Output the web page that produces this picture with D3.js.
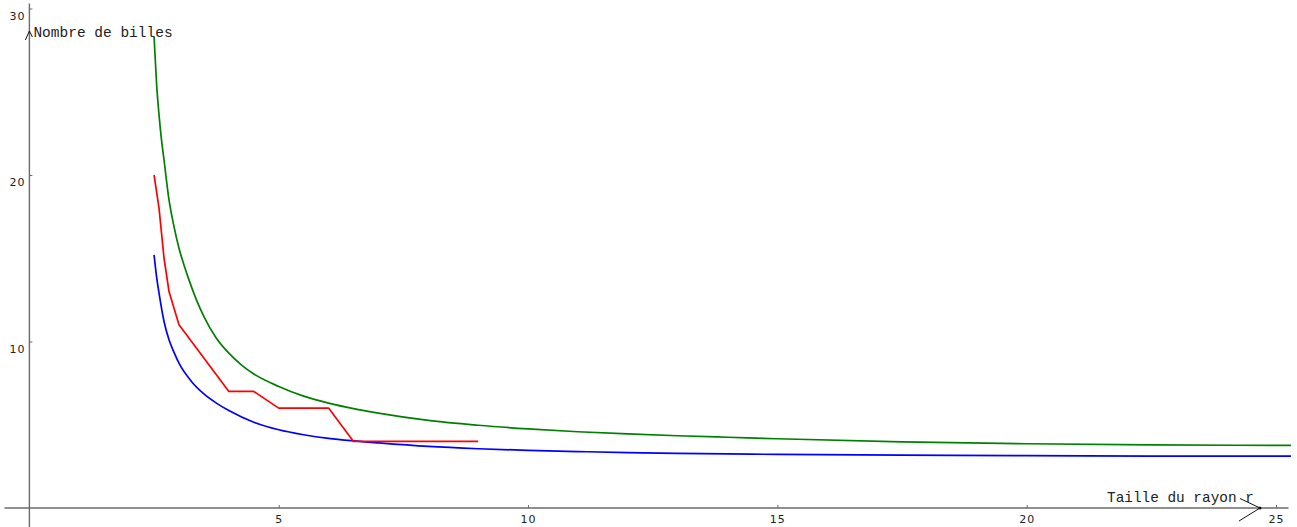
<!DOCTYPE html>
<html>
<head>
<meta charset="utf-8">
<script src="https://cdn.jsdelivr.net/npm/d3@7"></script>
<style>
  html, body { margin: 0; padding: 0; background: #fff; }
  svg { display: block; }
</style>
</head>
<body>
<svg id="chart" width="1297" height="527"></svg>
<script>
// ---- data ----
const xTicks = [5, 10, 15, 20, 25];
const yTicks = [10, 20, 30];
const xLabel = "Taille du rayon r";
const yLabel = "Nombre de billes";

const greenX = [2.5, 2.55, 2.6, 2.65, 2.7, 2.8, 2.9, 3.0, 3.1, 3.2, 3.35, 3.5, 3.75, 4.0, 4.25, 4.5, 5.0, 5.5, 6.0, 6.5, 7.0, 8.0, 9.0, 10.0, 11.0, 12.0, 13.0, 14.0, 15.0, 17.5, 20.0, 22.5, 25.3];
const greenY = [28.3, 25.5, 23.6, 22.1, 20.9, 18.5, 16.9, 15.6, 14.6, 13.7, 12.5, 11.5, 10.2, 9.3, 8.6, 8.05, 7.3, 6.72, 6.3, 5.97, 5.7, 5.26, 4.97, 4.75, 4.58, 4.45, 4.34, 4.25, 4.16, 3.97, 3.86, 3.79, 3.76];

const blueX = [2.5, 2.55, 2.6, 2.7, 2.8, 2.9, 3.0, 3.25, 3.5, 3.75, 4.0, 4.5, 5.0, 5.5, 6.0, 6.5, 7.0, 8.0, 9.0, 10.0, 11.0, 12.0, 13.0, 14.0, 15.0, 17.5, 20.0, 22.5, 25.3];
const blueY = [15.2, 13.9, 12.9, 11.2, 10.1, 9.35, 8.7, 7.6, 6.85, 6.3, 5.85, 5.15, 4.7, 4.4, 4.18, 4.03, 3.91, 3.7, 3.56, 3.46, 3.39, 3.33, 3.28, 3.25, 3.22, 3.17, 3.14, 3.12, 3.11];

const redX = [2.5, 2.6, 2.7, 2.8, 2.9, 3.0, 4.0, 4.5, 5.0, 6.0, 6.5, 9.0];
const redY = [20, 18, 15, 13, 12, 11, 7, 7, 6, 6, 4, 4];

// ---- scales ----
const svg = d3.select("#chart");
const x = d3.scaleLinear().domain([0, 25]).range([29.4, 1276]);
const y = d3.scaleLinear().domain([0, 30]).range([508, 8.5]);

const axisColor = "#6b6b6b";
const textColor = "#222";

// ---- axis lines ----
svg.append("line")
  .attr("x1", x(-0.5)).attr("x2", x(25.25))
  .attr("y1", y(0)).attr("y2", y(0))
  .attr("stroke", axisColor).attr("stroke-width", 1.4);
svg.append("line")
  .attr("x1", x(0)).attr("x2", x(0))
  .attr("y1", y(30.3)).attr("y2", 527)
  .attr("stroke", axisColor).attr("stroke-width", 1.4);

// ---- x axis ticks ----
const gx = svg.append("g")
  .attr("transform", `translate(0,${y(0)})`)
  .call(d3.axisBottom(x).tickValues(xTicks).tickSizeInner(-3).tickSizeOuter(0).tickPadding(7));
gx.select(".domain").remove();
gx.selectAll(".tick line").attr("stroke", axisColor);
gx.selectAll(".tick text")
  .attr("fill", textColor)
  .style("font-family", "'DejaVu Sans', sans-serif")
  .style("font-size", "11px")
  .style("letter-spacing", "1px");

// ---- y axis ticks ----
const gy = svg.append("g")
  .attr("transform", `translate(${x(0)},0)`)
  .call(d3.axisLeft(y).tickValues(yTicks).tickSizeInner(-3).tickSizeOuter(0).tickPadding(4));
gy.select(".domain").remove();
gy.selectAll(".tick line").attr("stroke", axisColor);
gy.selectAll(".tick text")
  .attr("fill", textColor)
  .attr("dy", "10.5px")
  .style("font-family", "'DejaVu Sans', sans-serif")
  .style("font-size", "11px")
  .style("letter-spacing", "1px");

// ---- axis labels with arrows ----
svg.append("text")
  .attr("x", x(0) + 4).attr("y", 37)
  .attr("fill", textColor)
  .style("font-family", "'Liberation Mono', 'DejaVu Sans Mono', monospace")
  .style("font-size", "14.5px")
  .text(yLabel);
svg.append("path")
  .attr("d", `M${x(0) - 4},${40} L${x(0)},${31} L${x(0) + 3},${37}`)
  .attr("fill", "none").attr("stroke", "#111").attr("stroke-width", 1);

svg.append("text")
  .attr("x", 1107).attr("y", 501.5)
  .attr("fill", textColor)
  .style("font-family", "'Liberation Mono', 'DejaVu Sans Mono', monospace")
  .style("font-size", "14.4px")
  .text(xLabel);
svg.append("path")
  .attr("d", `M1240,498.5 L1260,${y(0)} L1239,521`)
  .attr("fill", "none").attr("stroke", "#111").attr("stroke-width", 1);
svg.append("circle").attr("cx", 1260).attr("cy", y(0)).attr("r", 1.5).attr("fill", "#111");

// ---- series ----
function drawSeries(xs, ys, color, curve) {
  const pts = xs.map((v, i) => [v, ys[i]]);
  const line = d3.line().x(d => x(d[0])).y(d => y(d[1])).curve(curve);
  svg.append("path")
    .datum(pts)
    .attr("d", line)
    .attr("fill", "none")
    .attr("stroke", color)
    .attr("stroke-width", 1.7)
    .attr("stroke-linejoin", "round");
}
drawSeries(greenX, greenY, "#008000", d3.curveMonotoneX);
drawSeries(blueX, blueY, "#0000ff", d3.curveMonotoneX);
drawSeries(redX, redY, "#ff0000", d3.curveLinear);
</script>
</body>
</html>
